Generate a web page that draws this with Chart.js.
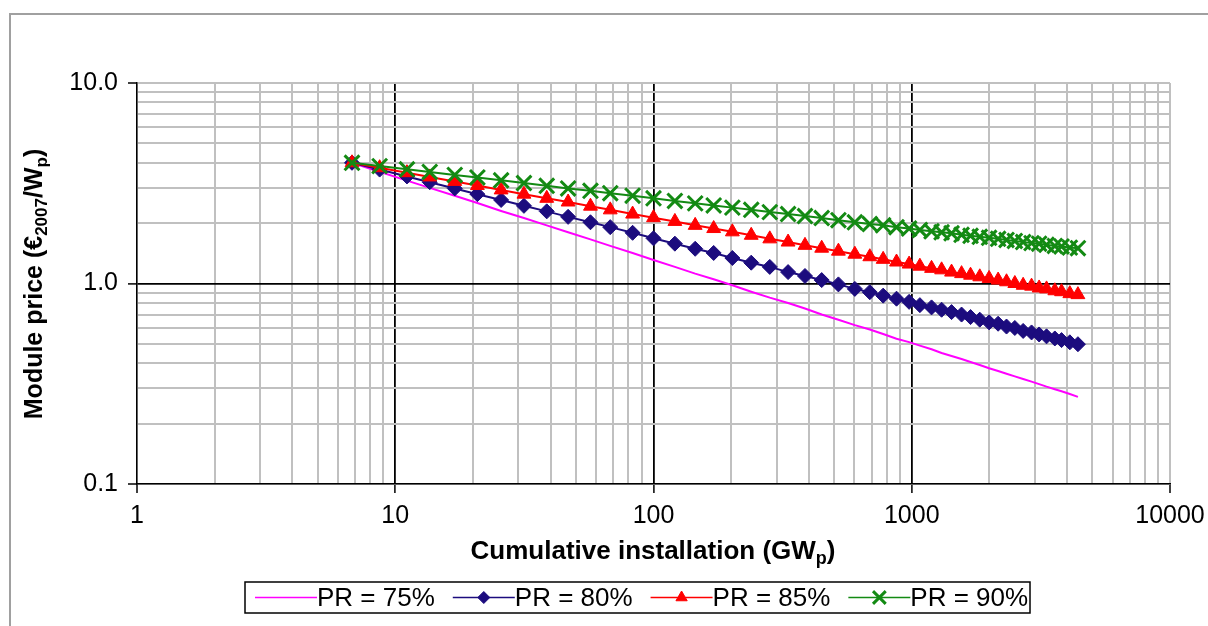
<!DOCTYPE html>
<html>
<head>
<meta charset="utf-8">
<script src="https://cdn.jsdelivr.net/npm/chart.js@4.4.1/dist/chart.umd.min.js"></script>
<style>
  html, body { margin: 0; padding: 0; background: #fff; }
  canvas { display: block; }
</style>
</head>
<body>
<canvas id="chart" width="1208" height="626"></canvas>
<script>
// cumulative installation (GWp)
const installed = [6.8, 8.7, 11.1, 13.6, 17, 20.8, 25.7, 31.5, 38.6, 46.7,
  57, 68, 83, 100, 121, 145, 171, 202, 239, 282,
  332, 386, 448, 520, 602, 688, 775, 873, 977, 1075,
  1193, 1305, 1426, 1559, 1689, 1834, 1993, 2160, 2328, 2507,
  2700, 2910, 3113, 3326, 3581, 3802, 4094, 4400];

// module price (EUR2007/Wp) for each progress ratio
const pr75 = [4.00, 3.61, 3.26, 3.00, 2.74, 2.52, 2.30, 2.12, 1.95, 1.80,
  1.66, 1.54, 1.42, 1.31, 1.21, 1.12, 1.05, 0.98, 0.91, 0.85,
  0.80, 0.75, 0.70, 0.66, 0.62, 0.59, 0.56, 0.53, 0.51, 0.49,
  0.47, 0.45, 0.435, 0.42, 0.406, 0.392, 0.378, 0.366, 0.355, 0.344,
  0.334, 0.324, 0.315, 0.306, 0.297, 0.29, 0.281, 0.272];
const pr80 = [4.00, 3.70, 3.42, 3.20, 2.98, 2.79, 2.61, 2.44, 2.29, 2.15,
  2.02, 1.91, 1.79, 1.68, 1.58, 1.49, 1.42, 1.34, 1.27, 1.21,
  1.14, 1.09, 1.04, 0.99, 0.94, 0.905, 0.87, 0.84, 0.81, 0.78,
  0.76, 0.74, 0.72, 0.70, 0.68, 0.66, 0.64, 0.63, 0.61, 0.60,
  0.58, 0.57, 0.557, 0.545, 0.532, 0.522, 0.509, 0.498];
const pr85 = [4.00, 3.78, 3.57, 3.40, 3.23, 3.08, 2.93, 2.79, 2.66, 2.55,
  2.43, 2.33, 2.22, 2.13, 2.04, 1.95, 1.88, 1.81, 1.74, 1.67,
  1.61, 1.55, 1.50, 1.45, 1.40, 1.36, 1.32, 1.28, 1.25, 1.22,
  1.19, 1.17, 1.14, 1.12, 1.10, 1.08, 1.06, 1.04, 1.02, 1.00,
  0.98, 0.97, 0.95, 0.94, 0.92, 0.91, 0.89, 0.88];
const pr90 = [4.00, 3.85, 3.71, 3.60, 3.48, 3.38, 3.27, 3.17, 3.07, 2.98,
  2.90, 2.82, 2.74, 2.66, 2.58, 2.51, 2.45, 2.39, 2.33, 2.27,
  2.22, 2.17, 2.12, 2.07, 2.02, 1.98, 1.95, 1.91, 1.88, 1.85,
  1.82, 1.80, 1.78, 1.75, 1.73, 1.71, 1.69, 1.67, 1.65, 1.63,
  1.61, 1.59, 1.58, 1.56, 1.54, 1.53, 1.51, 1.50];

const seriesLabels = ['PR = 75%', 'PR = 80%', 'PR = 85%', 'PR = 90%'];

const xTicks = [1, 2, 3, 4, 5, 6, 7, 8, 9, 10, 20, 30, 40, 50, 60, 70, 80, 90,
  100, 200, 300, 400, 500, 600, 700, 800, 900, 1000,
  2000, 3000, 4000, 5000, 6000, 7000, 8000, 9000, 10000];
const yTicks = [0.1, 0.2, 0.3, 0.4, 0.5, 0.6, 0.7, 0.8, 0.9, 1,
  2, 3, 4, 5, 6, 7, 8, 9, 10];
const xBlack = [10, 100, 1000];
const yBlack = [1];

const FONT = '"Liberation Sans", Arial, sans-serif';
const GRID_GREY = '#c0c0c0';

const isDecade = v => Math.abs(Math.log10(v) - Math.round(Math.log10(v))) < 1e-9;
const pts = ys => installed.map((x, i) => ({ x: x, y: ys[i] }));

// gray frame round the whole picture
const framePlugin = {
  id: 'frame',
  beforeDraw(chart) {
    const ctx = chart.ctx;
    ctx.save();
    ctx.fillStyle = '#fff';
    ctx.fillRect(0, 0, chart.width, chart.height);
    ctx.strokeStyle = '#a0a0a0';
    ctx.lineWidth = 2;
    ctx.beginPath();
    ctx.moveTo(10, chart.height);
    ctx.lineTo(10, 14);
    ctx.lineTo(chart.width, 14);
    ctx.stroke();
    ctx.restore();
  }
};

// text with subscripts, centred on (0,0) of the current transform
function drawRich(ctx, parts, size) {
  const main = 'bold ' + size + 'px ' + FONT;
  const sub = 'bold ' + Math.round(size * 0.68) + 'px ' + FONT;
  let total = 0;
  parts.forEach(p => {
    ctx.font = p.sub ? sub : main;
    p.w = ctx.measureText(p.t).width;
    total += p.w;
  });
  let x = -total / 2;
  ctx.fillStyle = '#000';
  ctx.textBaseline = 'middle';
  ctx.textAlign = 'left';
  parts.forEach(p => {
    ctx.font = p.sub ? sub : main;
    ctx.fillText(p.t, x, p.sub ? size * 0.28 : 0);
    x += p.w;
  });
}

const titlePlugin = {
  id: 'titles',
  afterDraw(chart) {
    const ctx = chart.ctx;
    ctx.save();
    ctx.translate(653, 552);
    drawRich(ctx, [{ t: 'Cumulative installation (GW' }, { t: 'p', sub: true }, { t: ')' }], 26);
    ctx.restore();

    ctx.save();
    ctx.translate(35, 284);
    ctx.rotate(-Math.PI / 2);
    drawRich(ctx, [{ t: 'Module price (€' }, { t: '2007', sub: true }, { t: '/W' },
      { t: 'p', sub: true }, { t: ')' }], 25);
    ctx.restore();
  }
};

// legend: line sample with marker, then label, inside a black box
const legendPlugin = {
  id: 'boxLegend',
  afterDraw(chart) {
    const ctx = chart.ctx;
    const left = 245, top = 582, right = 1030, bottom = 613;
    const midY = (top + bottom) / 2;
    ctx.save();
    ctx.fillStyle = '#fff';
    ctx.fillRect(left, top, right - left, bottom - top);
    ctx.strokeStyle = '#000';
    ctx.lineWidth = 1.5;
    ctx.strokeRect(left, top, right - left, bottom - top);

    ctx.font = '26px ' + FONT;
    ctx.textBaseline = 'middle';
    let x = left + 10;
    chart.data.datasets.slice().sort((p, q) => p.legendIndex - q.legendIndex).forEach(ds => {
      ctx.strokeStyle = ds.borderColor;
      ctx.lineWidth = 1.5;
      ctx.beginPath();
      ctx.moveTo(x, midY);
      ctx.lineTo(x + 62, midY);
      ctx.stroke();
      if (ds.pointRadius > 0) {
        ctx.fillStyle = ds.pointBackgroundColor;
        ctx.strokeStyle = ds.pointBorderColor;
        ctx.lineWidth = ds.pointBorderWidth;
        Chart.helpers.drawPoint(ctx, {
          pointStyle: ds.pointStyle, radius: ds.pointRadius - 1.5,
          rotation: 0, borderWidth: ds.pointBorderWidth
        }, x + 31, midY);
      }
      x += 62;
      ctx.fillStyle = '#000';
      ctx.fillText(ds.label, x, midY + 1);
      x += ctx.measureText(ds.label).width + 18;
    });
    ctx.restore();
  }
};

const NAVY = '#1c0c7e';
const RED = '#ff0000';
const GREEN = '#138a13';
const PINK = '#ff00ff';

new Chart(document.getElementById('chart'), {
  type: 'scatter',
  data: {
    datasets: [
      {
        label: seriesLabels[0], legendIndex: 0, order: 4,
        data: pts(pr75), showLine: true,
        borderColor: PINK, borderWidth: 2,
        pointRadius: 0, pointHoverRadius: 0
      },
      {
        label: seriesLabels[1], legendIndex: 1, order: 3,
        data: pts(pr80), showLine: true,
        borderColor: NAVY, borderWidth: 2,
        pointStyle: 'rectRot', pointRadius: 7.5,
        pointBackgroundColor: NAVY, pointBorderColor: NAVY, pointBorderWidth: 1
      },
      {
        label: seriesLabels[2], legendIndex: 2, order: 2,
        data: pts(pr85), showLine: true,
        borderColor: RED, borderWidth: 2,
        pointStyle: 'triangle', pointRadius: 8,
        pointBackgroundColor: RED, pointBorderColor: RED, pointBorderWidth: 1
      },
      {
        label: seriesLabels[3], legendIndex: 3, order: 1,
        data: pts(pr90), showLine: true,
        borderColor: GREEN, borderWidth: 2,
        pointStyle: 'crossRot', pointRadius: 10.5,
        pointBackgroundColor: GREEN, pointBorderColor: GREEN, pointBorderWidth: 3
      }
    ]
  },
  options: {
    responsive: false,
    animation: false,
    devicePixelRatio: 1,
    layout: { padding: { left: 0, top: 83, right: 38, bottom: 0 } },
    plugins: {
      legend: { display: false },
      tooltip: { enabled: false },
      title: { display: false }
    },
    elements: { line: { tension: 0 } },
    scales: {
      x: {
        type: 'logarithmic',
        min: 1,
        max: 10000,
        afterBuildTicks: axis => { axis.ticks = xTicks.map(v => ({ value: v })); },
        afterFit: axis => { axis.height = 142; axis.paddingLeft = 0; axis.paddingRight = 0; },
        ticks: {
          autoSkip: false,
          maxRotation: 0,
          padding: 8,
          color: '#000',
          font: { family: FONT, size: 25 },
          callback: v => isDecade(v) ? String(v) : ''
        },
        grid: {
          color: c => xBlack.includes(c.tick.value) ? '#000' : GRID_GREY,
          lineWidth: c => xBlack.includes(c.tick.value) ? 1.8 : 2,
          tickLength: 9,
          tickColor: c => isDecade(c.tick.value) ? '#000' : 'rgba(0,0,0,0)',
          tickWidth: 1.5
        },
        border: { display: true, color: '#000', width: 1.5 }
      },
      y: {
        type: 'logarithmic',
        min: 0.1,
        max: 10,
        afterBuildTicks: axis => { axis.ticks = yTicks.map(v => ({ value: v })); },
        afterFit: axis => { axis.width = 137; axis.paddingTop = 0; axis.paddingBottom = 0; },
        ticks: {
          autoSkip: false,
          padding: 10,
          color: '#000',
          font: { family: FONT, size: 25 },
          callback: v => isDecade(v) ? v.toFixed(1) : ''
        },
        grid: {
          color: c => yBlack.includes(c.tick.value) ? '#000' : GRID_GREY,
          lineWidth: c => yBlack.includes(c.tick.value) ? 1.8 : 2,
          tickLength: 9,
          tickColor: c => isDecade(c.tick.value) ? '#000' : 'rgba(0,0,0,0)',
          tickWidth: 1.5
        },
        border: { display: true, color: '#000', width: 1.5 }
      }
    }
  },
  plugins: [framePlugin, titlePlugin, legendPlugin]
});
</script>
</body>
</html>
